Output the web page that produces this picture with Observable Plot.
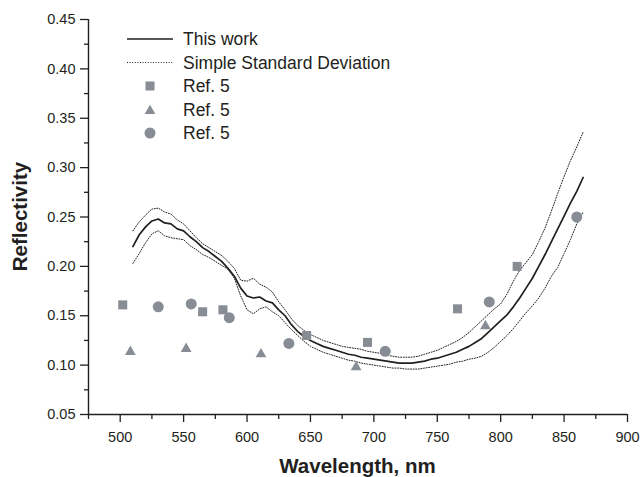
<!DOCTYPE html>
<html><head><meta charset="utf-8">
<script src="https://cdn.jsdelivr.net/npm/d3@7"></script>
<script src="https://cdn.jsdelivr.net/npm/@observablehq/plot@0.6"></script>
<style>body{margin:0;background:#fff} svg{display:block}</style>
</head><body><div id="chart"></div>
<script>
// ---- data ----
const wavelength = [510,515,520,525,530,535,540,545,550,555,560,565,570,575,580,585,590,595,600,605,610,615,620,625,630,635,640,645,650,655,660,665,670,675,680,685,690,695,700,705,710,715,720,725,730,735,740,745,750,755,760,765,770,775,780,785,790,795,800,805,810,815,820,825,830,835,840,845,850,855,860,865];
const thisWork = [0.220,0.232,0.240,0.246,0.248,0.244,0.243,0.238,0.236,0.230,0.225,0.219,0.215,0.210,0.205,0.198,0.190,0.178,0.170,0.168,0.169,0.165,0.163,0.156,0.150,0.141,0.134,0.129,0.125,0.122,0.119,0.117,0.115,0.113,0.111,0.110,0.108,0.107,0.106,0.105,0.104,0.103,0.102,0.102,0.102,0.103,0.104,0.106,0.107,0.109,0.111,0.113,0.116,0.119,0.123,0.127,0.133,0.139,0.145,0.151,0.159,0.168,0.178,0.188,0.200,0.212,0.225,0.238,0.251,0.264,0.276,0.290];
const sdUpper = [0.236,0.245,0.252,0.258,0.259,0.255,0.253,0.247,0.243,0.236,0.229,0.223,0.219,0.215,0.211,0.205,0.198,0.186,0.185,0.188,0.182,0.179,0.174,0.164,0.156,0.147,0.140,0.135,0.131,0.128,0.125,0.123,0.121,0.119,0.118,0.117,0.116,0.114,0.113,0.112,0.110,0.109,0.108,0.108,0.108,0.109,0.111,0.113,0.115,0.118,0.121,0.124,0.128,0.133,0.139,0.145,0.151,0.157,0.162,0.172,0.185,0.196,0.204,0.212,0.225,0.239,0.256,0.274,0.291,0.307,0.321,0.336];
const sdLower = [0.203,0.213,0.224,0.233,0.236,0.231,0.229,0.228,0.227,0.221,0.217,0.212,0.209,0.205,0.201,0.197,0.188,0.170,0.156,0.152,0.157,0.159,0.154,0.150,0.143,0.136,0.130,0.124,0.119,0.116,0.113,0.111,0.109,0.107,0.105,0.104,0.102,0.101,0.100,0.099,0.098,0.097,0.097,0.096,0.096,0.096,0.097,0.098,0.099,0.100,0.101,0.103,0.104,0.106,0.107,0.109,0.113,0.118,0.124,0.130,0.137,0.145,0.153,0.160,0.168,0.178,0.190,0.199,0.213,0.227,0.243,0.255];

const squareNm = [502,565,581,647,695,766,813];
const squareR  = [0.161,0.154,0.156,0.130,0.123,0.157,0.200];
const triangleNm = [508,552,611,686,788];
const triangleR  = [0.1135,0.1165,0.111,0.098,0.1395];
const circleNm = [530,556,586,633,709,791,860];
const circleR  = [0.159,0.162,0.148,0.122,0.114,0.164,0.250];

const xTicks = [500,550,600,650,700,750,800,850,900];
const xMinor = [475,525,575,625,675,725,775,825,875];
const yTicks = [0.05,0.10,0.15,0.20,0.25,0.30,0.35,0.40,0.45];
const yMinor = [0.075,0.125,0.175,0.225,0.275,0.325,0.375,0.425];
const legendLabels = ["This work","Simple Standard Deviation","Ref. 5","Ref. 5","Ref. 5"];
const xTitle = "Wavelength, nm";
const yTitle = "Reflectivity";

// ---- build ----
const curve = wavelength.map((w,i)=>({w, c:thisWork[i], u:sdUpper[i], l:sdLower[i]}));
const squares = squareNm.map((w,i)=>({w, r:squareR[i]}));
const triangles = triangleNm.map((w,i)=>({w, r:triangleR[i]}));
const circles = circleNm.map((w,i)=>({w, r:circleR[i]}));

const ink = "#231f20";
const markerFill = "#878c95";
const W = 641, H = 477;

const plot = Plot.plot({
  width: W, height: H,
  marginLeft: 88, marginRight: 14, marginTop: 19, marginBottom: 63,
  style: {fontFamily: "'Liberation Sans', Arial, sans-serif", fontSize: "14.5px", color: ink, background: "white"},
  x: {domain: [475, 900]},
  y: {domain: [0.05, 0.45]},
  marks: [
    Plot.axisX(xTicks, {tickSize: 8, tickPadding: 9, strokeWidth: 1.3, label: null, fontSize: 14.5}),
    Plot.axisX(xMinor, {tickSize: 5, tickFormat: () => "", strokeWidth: 1.3, label: null}),
    Plot.axisY(yTicks, {tickSize: 8, tickPadding: 5, strokeWidth: 1.3, tickFormat: d3.format(".2f"), label: null, fontSize: 14.5}),
    Plot.axisY(yMinor, {tickSize: 4, tickFormat: () => "", strokeWidth: 1.3, label: null}),
    Plot.ruleY([0.05], {stroke: ink, strokeWidth: 1.4}),
    Plot.ruleX([475], {stroke: ink, strokeWidth: 1.4}),
    Plot.line(curve, {x: "w", y: "u", stroke: ink, strokeWidth: 1, strokeDasharray: "1,1.6"}),
    Plot.line(curve, {x: "w", y: "l", stroke: ink, strokeWidth: 1, strokeDasharray: "1,1.6"}),
    Plot.line(curve, {x: "w", y: "c", stroke: ink, strokeWidth: 1.7}),
    Plot.dot(squares, {x: "w", y: "r", symbol: "square", r: 5.1, fill: markerFill}),
    Plot.dot(triangles, {x: "w", y: "r", symbol: "triangle", r: 4, fill: markerFill}),
    Plot.dot(circles, {x: "w", y: "r", symbol: "circle", r: 5.5, fill: markerFill})
  ]
});

const svg = d3.select(plot);
// axis titles
svg.append("text").attr("x", 357.5).attr("y", 466).attr("dy", "0.35em")
  .attr("text-anchor", "middle").attr("font-weight", "bold").attr("font-size", 20.5)
  .attr("fill", ink).text(xTitle);
svg.append("text").attr("transform", "translate(20,216.5) rotate(-90)").attr("dy", "0.35em")
  .attr("text-anchor", "middle").attr("font-weight", "bold").attr("font-size", 20.5)
  .attr("fill", ink).text(yTitle);

// legend
const lg = svg.append("g").attr("font-size", 17.5).attr("fill", ink).attr("text-anchor", "start");
const rowY = i => 39 + i * 23.5;
lg.append("line").attr("x1", 127).attr("x2", 173).attr("y1", rowY(0)).attr("y2", rowY(0))
  .attr("stroke", ink).attr("stroke-width", 1.7);
lg.append("line").attr("x1", 127).attr("x2", 173).attr("y1", rowY(1)).attr("y2", rowY(1))
  .attr("stroke", ink).attr("stroke-width", 1).attr("stroke-dasharray", "1,1.6");
const syms = [[d3.symbolSquare, 5.1], [d3.symbolTriangle, 4], [d3.symbolCircle, 5.5]];
syms.forEach(([s, r], k) => {
  lg.append("path").attr("transform", `translate(150,${rowY(k+2) + (k===1 ? 1.5 : 0)})`)
    .attr("d", d3.symbol(s, Math.PI * r * r)()).attr("fill", markerFill);
});
legendLabels.forEach((t, i) => {
  lg.append("text").attr("x", 183).attr("y", rowY(i)).attr("dy", "0.35em")
    .attr("text-anchor", "start").text(t);
});

document.getElementById("chart").appendChild(plot);
</script>
</body></html>
